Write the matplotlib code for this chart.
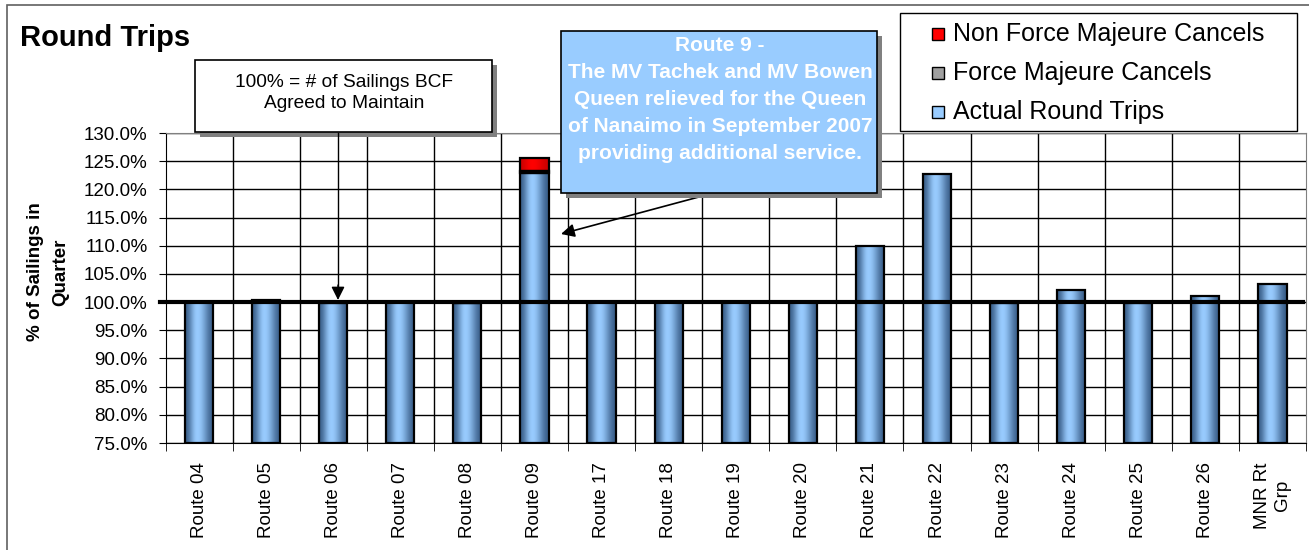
import numpy as np
import matplotlib
matplotlib.use("Agg")
import matplotlib.pyplot as plt
from matplotlib.colors import LinearSegmentedColormap
from matplotlib.patches import Rectangle

routes = ["Route 04", "Route 05", "Route 06", "Route 07", "Route 08", "Route 09",
          "Route 17", "Route 18", "Route 19", "Route 20", "Route 21", "Route 22",
          "Route 23", "Route 24", "Route 25", "Route 26", "MNR Rt\nGrp"]
actual = [100.0, 100.3, 99.8, 100.0, 99.8, 122.9, 100.0, 100.0, 100.0, 100.0,
          110.0, 122.7, 99.9, 102.1, 99.9, 101.1, 103.2]
force_majeure = [0, 0, 0, 0, 0, 0.4, 0, 0, 0, 0, 0, 0, 0, 0, 0, 0, 0]
non_force = [0, 0, 0, 0, 0.05, 2.3, 0, 0, 0, 0, 0, 0, 0, 0, 0, 0, 0]
yticks = np.arange(75, 130.1, 5)

plt.rcParams['font.family'] = ['Liberation Sans', 'DejaVu Sans']

fig = plt.figure(figsize=(13.09, 5.5), dpi=100)
W, H = 1309, 550


def fx(px):
    return px / W


def fy(py):
    return 1 - py / H


ax = fig.add_axes([fx(165.5), fy(443), 1140.5 / W, 310 / H])

x = np.arange(len(routes))
bw = 0.42
grad = np.array([[0.0, 0.5, 1.0, 1.0, 0.7, 0.3, 0.0]])


def grad_bar(ax, xc, bottom, height, cmap):
    if height <= 0:
        return
    rect = Rectangle((xc - bw / 2, bottom), bw, height, facecolor="none",
                     edgecolor="black", linewidth=1.6, zorder=4)
    ax.add_patch(rect)
    im = ax.imshow(grad, cmap=cmap, aspect="auto", interpolation="bicubic",
                   extent=(xc - bw / 2, xc + bw / 2, bottom, bottom + height), zorder=3)
    im.set_clip_path(rect)


blue = LinearSegmentedColormap.from_list("b", ["#3a5f8a", "#99ccff"])
gray = LinearSegmentedColormap.from_list("g", ["#404040", "#c8c8c8"])
red = LinearSegmentedColormap.from_list("r", ["#cc0000", "#ff0000"])

for i in range(len(routes)):
    grad_bar(ax, x[i], 75, actual[i] - 75, blue)
    grad_bar(ax, x[i], actual[i], force_majeure[i], gray)
    grad_bar(ax, x[i], actual[i] + force_majeure[i], non_force[i], red)

ax.set_xlim(-0.5, len(routes) - 0.5)
ax.set_ylim(75, 130)
ax.set_yticks(yticks)
ax.set_yticklabels([f"{v:.1f}%" for v in yticks], fontsize=13.5)
ax.tick_params(axis="y", length=5, pad=8)
ax.set_xticks(x)
ax.set_xticklabels(routes, rotation=90, fontsize=13.5)
ax.tick_params(axis="x", length=0, pad=14)
ax.set_xticks(np.arange(-0.5, len(routes), 1), minor=True)
ax.tick_params(axis="x", which="minor", length=6)
ax.grid(False)
for v in yticks:
    ax.axhline(v, color="black", lw=1, zorder=1)
for v in np.arange(0.5, len(routes) - 1, 1):
    ax.axvline(v, color="black", lw=1, zorder=1)
ax.axhline(100, color="black", lw=3, zorder=5, clip_on=False, xmin=-0.005, xmax=0.997)
ax.spines["top"].set_color("#808080")
ax.spines["right"].set_color("#808080")

fig.text(fx(48), fy(272), "% of Sailings in\nQuarter", fontsize=13.5,
         fontweight="bold", rotation=90, ha="center", va="center",
         multialignment="center", linespacing=1.6)

fig.text(fx(20), fy(46), "Round Trips", fontsize=21, fontweight="bold",
         va="baseline", ha="left")

# annotation box 1
fig.patches.append(Rectangle((fx(200), fy(137)), 297 / W, 72 / H,
                             transform=fig.transFigure, facecolor="#808080",
                             edgecolor="none", zorder=5))
fig.patches.append(Rectangle((fx(195), fy(132)), 297 / W, 72 / H,
                             transform=fig.transFigure, facecolor="white",
                             edgecolor="black", lw=1.2, zorder=6))
fig.text(fx(344), fy(74), "100% = # of Sailings BCF\nAgreed to Maintain",
         fontsize=13.8, ha="center", va="top", linespacing=1.3, zorder=7)

# annotation box 2
fig.patches.append(Rectangle((fx(566), fy(198)), 316 / W, 162 / H,
                             transform=fig.transFigure, facecolor="#808080",
                             edgecolor="none", zorder=5))
fig.patches.append(Rectangle((fx(561), fy(193)), 316 / W, 162 / H,
                             transform=fig.transFigure, facecolor="#99ccff",
                             edgecolor="black", lw=1.2, zorder=6))
fig.text(fx(720), fy(36),
         "Route 9 -\nThe MV Tachek and MV Bowen\nQueen relieved for the Queen\n"
         "of Nanaimo in September 2007\nproviding additional service.",
         fontsize=15, fontweight="bold", color="white", ha="center", va="top",
         linespacing=1.53, zorder=7)

# arrows
fig.add_artist(plt.Line2D([fx(338), fx(338)], [fy(133), fy(290)], color="black",
                          lw=1, transform=fig.transFigure, zorder=8))
ax.annotate("", xy=(fx(338), fy(300)), xycoords="figure fraction",
            xytext=(fx(338), fy(285)), textcoords="figure fraction",
            arrowprops=dict(arrowstyle="-|>", color="black", lw=1, mutation_scale=20,
                            shrinkA=0, shrinkB=0))
ax.annotate("", xy=(fx(561), fy(234)), xycoords="figure fraction",
            xytext=(fx(710), fy(194)), textcoords="figure fraction",
            arrowprops=dict(arrowstyle="-|>", color="black", lw=1.2, mutation_scale=20,
                            shrinkA=0, shrinkB=0))

# legend
fig.patches.append(Rectangle((fx(900), fy(131)), 397 / W, 118 / H,
                             transform=fig.transFigure, facecolor="white",
                             edgecolor="black", lw=1, zorder=6))
leg_items = [("Non Force Majeure Cancels", "#ff0000"),
             ("Force Majeure Cancels", "#a0a0a0"),
             ("Actual Round Trips", "#99ccff")]
for k, (lab, col) in enumerate(leg_items):
    yc = 34 + k * 39
    fig.patches.append(Rectangle((fx(932), fy(yc + 6)), 12 / W, 12 / H,
                                 transform=fig.transFigure, facecolor=col,
                                 edgecolor="black", lw=1, zorder=7))
    fig.text(fx(953), fy(yc), lab, fontsize=18, va="center", ha="left", zorder=8)

# outer frame
fig.patches.append(Rectangle((fx(7), fy(560)), 1320 / W, 555 / H,
                             transform=fig.transFigure, facecolor="none",
                             edgecolor="#606060", lw=1.2, zorder=0))

fig.savefig("out.png", dpi=100)
